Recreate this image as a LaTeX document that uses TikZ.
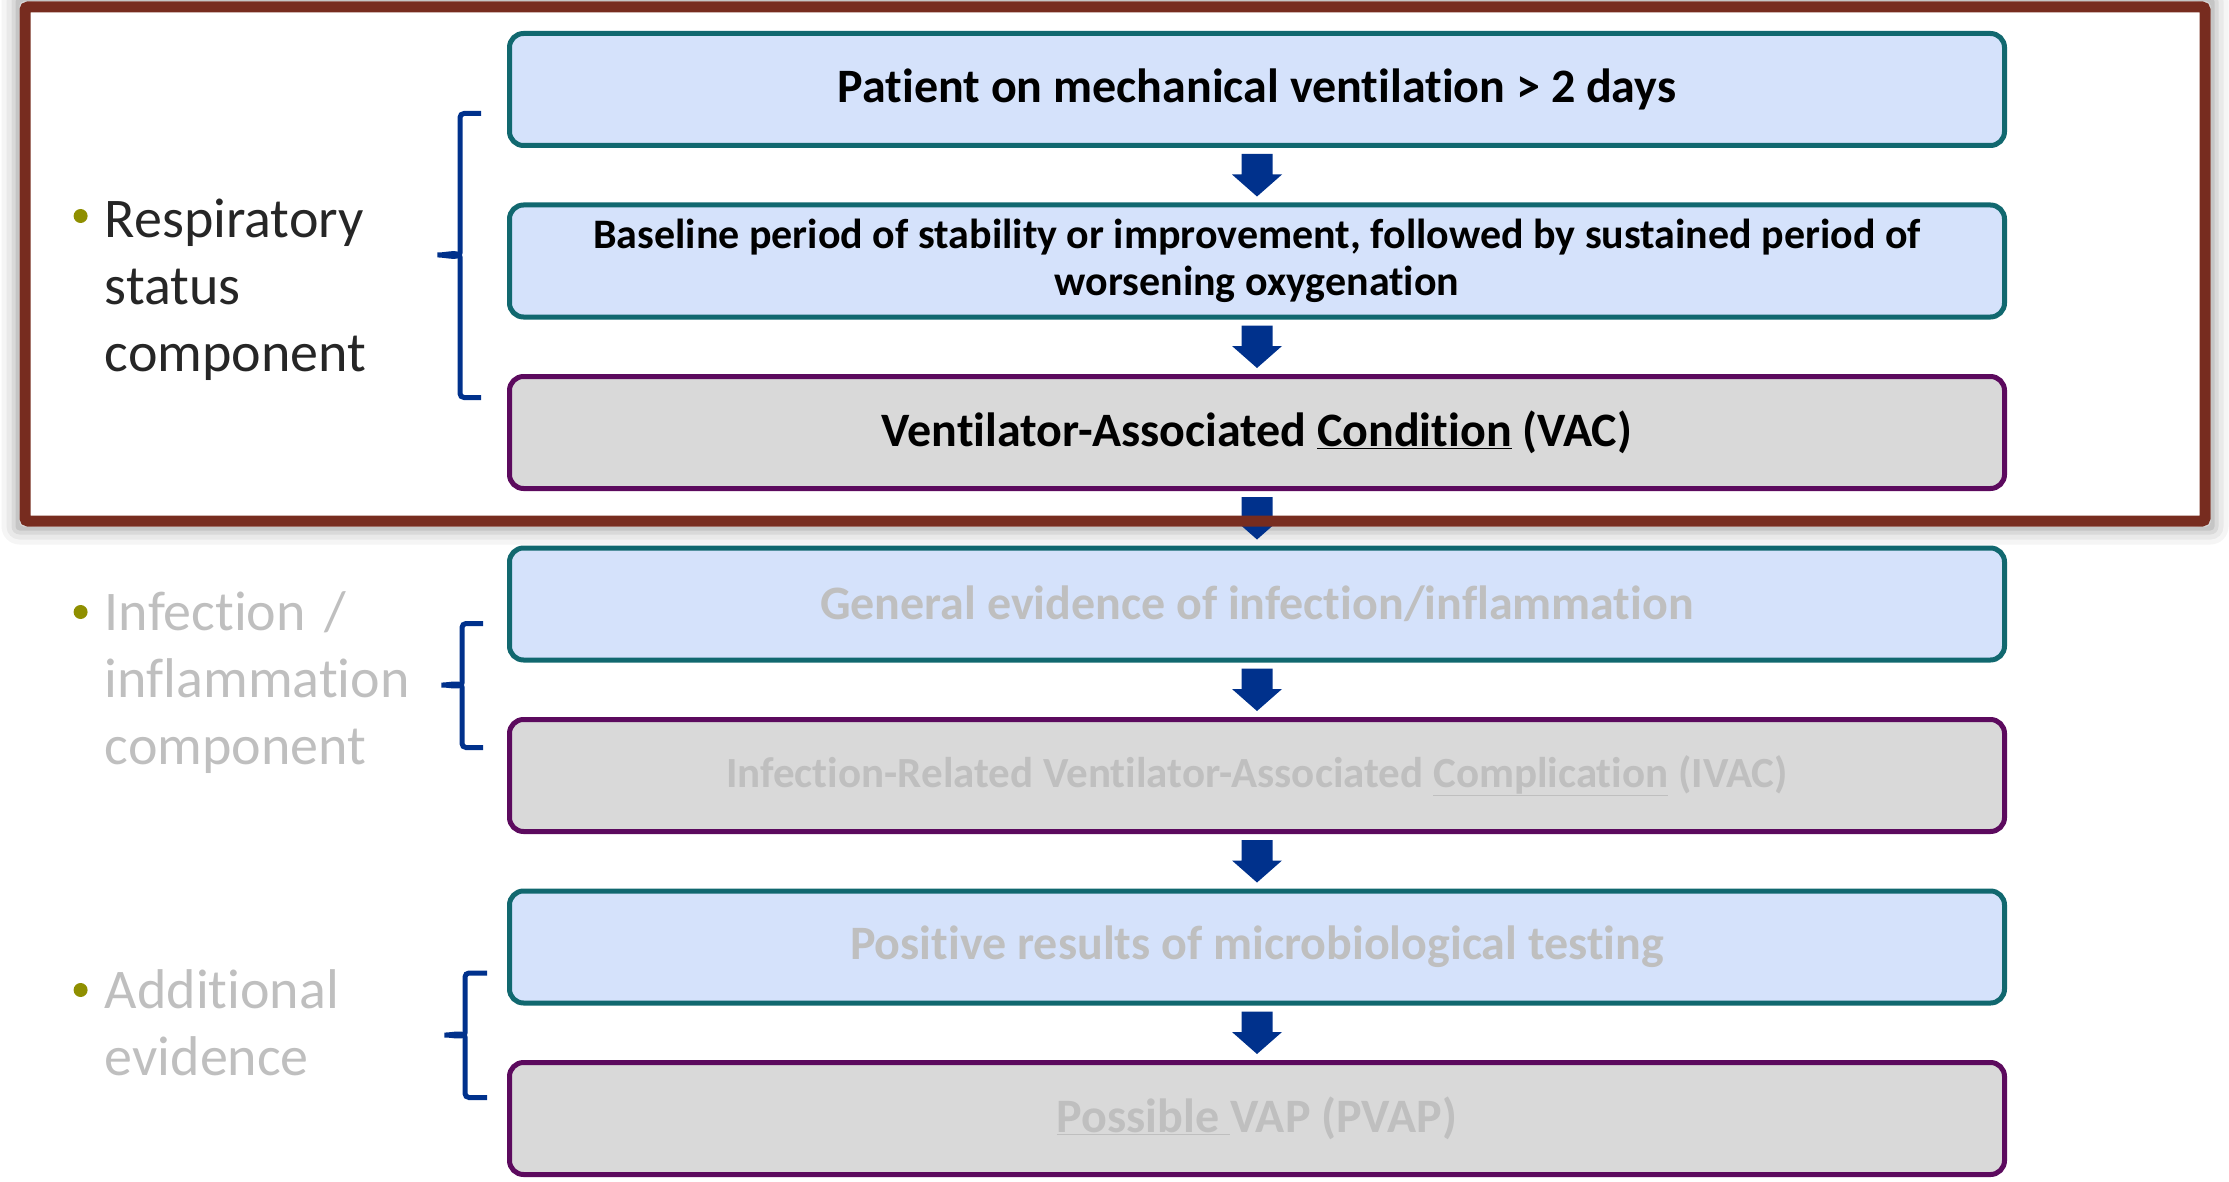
\documentclass[tikz,border=0pt]{standalone}
\usepackage{fontspec}
\setmainfont{Carlito}[Ligatures={NoCommon}]
\usetikzlibrary{positioning,calc}
\definecolor{tealline}{HTML}{11686F}
\definecolor{bluefill}{HTML}{D5E2FB}
\definecolor{purpleline}{HTML}{5C0A5E}
\definecolor{grayfill}{HTML}{D9D9D9}
\definecolor{arrowblue}{HTML}{00318C}
\definecolor{framered}{HTML}{772C1F}
\definecolor{bulletolive}{HTML}{8F8F00}
\definecolor{fadetext}{HTML}{BFBFBF}
\definecolor{darktext}{HTML}{262626}

\begin{document}
\begin{tikzpicture}
[x=1pt,y=-1pt,node distance=54.5pt]
\tikzset{stepbox/.style = {draw,rounded corners=14pt,line width=5pt,minimum width=1495pt,minimum height=112pt,inner sep=0pt,align=center,font=\bfseries\fontsize{48}{57}\selectfont}}
\tikzset{criterion/.style = {stepbox,draw=tealline,fill=bluefill}}
\tikzset{outcome/.style = {stepbox,draw=purpleline,fill=grayfill}}
\tikzset{faded/.style = {text=fadetext}}
\tikzset{sidetext/.style = {anchor=base west,inner sep=0pt,text width=420pt,align=left,font=\fontsize{56}{67}\selectfont}}
\tikzset{dot/.style = {circle,fill=bulletolive,inner sep=0pt,minimum size=14pt}}
\tikzset{groupbrace/.style = {draw=arrowblue,line width=5pt,rounded corners=4pt}}
\useasboundingbox (0,0) rectangle (2229,1182);
  \foreach \s/\o in {18/0.04,13/0.05,8/0.07,4/0.09}
    \fill[black,opacity=\o,even odd rule,rounded corners=\s pt]
      (19.5-\s,1.5-\s) rectangle (2210.5+\s,526.5+\s)
      (19.5,1.5) rectangle (2210.5,526.5);
  \node[criterion] (vent) at (1257,89.5) {Patient on mechanical ventilation > 2 days};
  \node[criterion,below=of vent,font=\bfseries\fontsize{42}{47}\selectfont] (worse) {Baseline period of stability or improvement, followed by sustained period of\\worsening oxygenation};
  \node[outcome,below=of worse] (vac) {Ventilator-Associated \underline{Condition} (VAC)};
  \node[criterion,faded,below=of vac] (infl) {General evidence of infection/inflammation};
  \node[outcome,faded,below=of infl,font=\bfseries\fontsize{43}{50}\selectfont] (ivac) {Infection-Related Ventilator-Associated \underline{Complication} (IVAC)};
  \node[criterion,faded,below=of ivac] (micro) {Positive results of microbiological testing};
  \node[outcome,faded,below=of micro] (pvap) {\underline{Possible\ }VAP (PVAP)};
  \foreach \a/\b in {vent/worse,worse/vac,vac/infl,infl/ivac,ivac/micro,micro/pvap}
    \fill[arrowblue] ($(\a.south)+(-15.5,6)$) -- ($(\a.south)+(15.5,6)$)
      -- ($(\b.north)+(15.5,-28)$) -- ($(\b.north)+(25,-28)$) -- ($(\b.north)+(0,-6)$)
      -- ($(\b.north)+(-25,-28)$) -- ($(\b.north)+(-15.5,-28)$) -- cycle;
  \draw[framered,line width=11pt,rounded corners=3pt] (25,7) rectangle (2205,521);
  \node[dot] (dot1) at (80.6,216) {};
  \node[dot] (dot2) at (80.6,612) {};
  \node[dot] (dot3) at (80.6,990) {};
  \node[sidetext,text=darktext] (resp) at (104.6,237.5) {Respiratory\\status\\component};
  \node[sidetext,faded] (infc) at (104.6,630.5) {Infection /\\inflammation\\component};
  \node[sidetext,faded] (addl) at (104.6,1008.7) {Additional\\evidence};
  \draw[groupbrace] (481,113.5) -- (460,113.5) -- (460,249) to[out=-90,in=0] (435,255)
    to[out=0,in=90] (460,261) -- (460,397.5) -- (481,397.5);
  \draw[groupbrace] (483,623.5) -- (462,623.5) -- (462,679) to[out=-90,in=0] (439,685)
    to[out=0,in=90] (462,691) -- (462,747.5) -- (483,747.5);
  \draw[groupbrace] (487,973) -- (465,973) -- (465,1029) to[out=-90,in=0] (442,1035)
    to[out=0,in=90] (465,1041) -- (465,1097.5) -- (487,1097.5);
\end{tikzpicture}
\end{document}
